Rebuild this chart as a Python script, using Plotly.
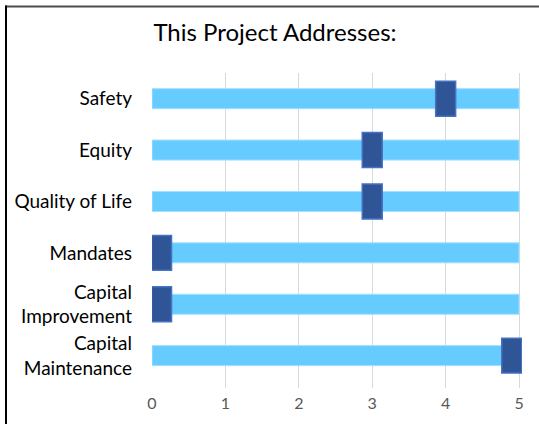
import plotly.graph_objects as go

# ---- data ----
categories = ["Safety", "Equity", "Quality of Life", "Mandates",
              "Capital<br>Improvement", "Capital<br>Maintenance"]
scores = [4, 3, 3, 0.13, 0.13, 4.9]
scale_max = [5, 5, 5, 5, 5, 5]
x_ticks = [0, 1, 2, 3, 4, 5]
title_text = "This Project Addresses:"

# ---- layout geometry ----
W, H = 539, 424
ml, mr, mt, mb = 152, 17, 73, 22
pw, ph = W - ml - mr, H - mt - mb


def px_x(px):
    return (px - ml) / pw


def px_y(py):
    return (H - mb - py) / ph


marker_half = 0.136
FONT = "Lato"

fig = go.Figure()
fig.add_trace(go.Bar(
    y=categories, x=scale_max, orientation="h", width=0.39,
    marker=dict(color="#66CCFF", line=dict(color="#A3E0FF", width=1)),
    hoverinfo="skip", showlegend=False,
))
fig.add_trace(go.Bar(
    y=categories, x=[2 * marker_half] * len(scores),
    base=[s - marker_half for s in scores], orientation="h", width=0.68,
    marker=dict(color="#2F5597", line=dict(color="#4472C4", width=1.5)),
    customdata=scores, hovertemplate="%{y}: %{customdata}<extra></extra>",
    showlegend=False,
))

fig.update_layout(
    width=W, height=H,
    margin=dict(l=ml, r=mr, t=mt, b=mb),
    paper_bgcolor="white", plot_bgcolor="white",
    barmode="overlay",
    font=dict(family=FONT, color="#000000"),
    title=dict(text=title_text, x=275 / W, xanchor="center", xref="container",
               y=1 - 33 / H, yanchor="middle", yref="container",
               font=dict(family=FONT, size=24, color="#000000")),
    xaxis=dict(range=[0, 5.04], tickvals=x_ticks, showgrid=True,
               gridcolor="#D9D9D9", gridwidth=1, zeroline=False, showline=False,
               ticks="", tickfont=dict(family=FONT, size=16, color="#595959"),
               ticklabelstandoff=4),
    yaxis=dict(categoryorder="array", categoryarray=categories,
               range=[5.63, -0.5], showgrid=False, zeroline=False, showline=False,
               ticks="", ticklabelstandoff=19,
               tickfont=dict(family=FONT, size=19, color="#000000")),
    shapes=[
        dict(type="rect", xref="paper", yref="paper",
             x0=px_x(6), x1=px_x(580), y0=px_y(3.5), y1=px_y(460),
             line=dict(color="#4D4D4D", width=2), fillcolor="rgba(0,0,0,0)",
             layer="above"),
        dict(type="line", xref="paper", yref="paper",
             x0=px_x(6), x1=px_x(6), y0=px_y(2.5), y1=px_y(460),
             line=dict(color="#000000", width=2), layer="above"),
    ],
)

fig.write_html("out.html",
               config={"displayModeBar": False},
               post_script="document.body.style.margin='0';"
                           "document.body.style.overflow='hidden';")
